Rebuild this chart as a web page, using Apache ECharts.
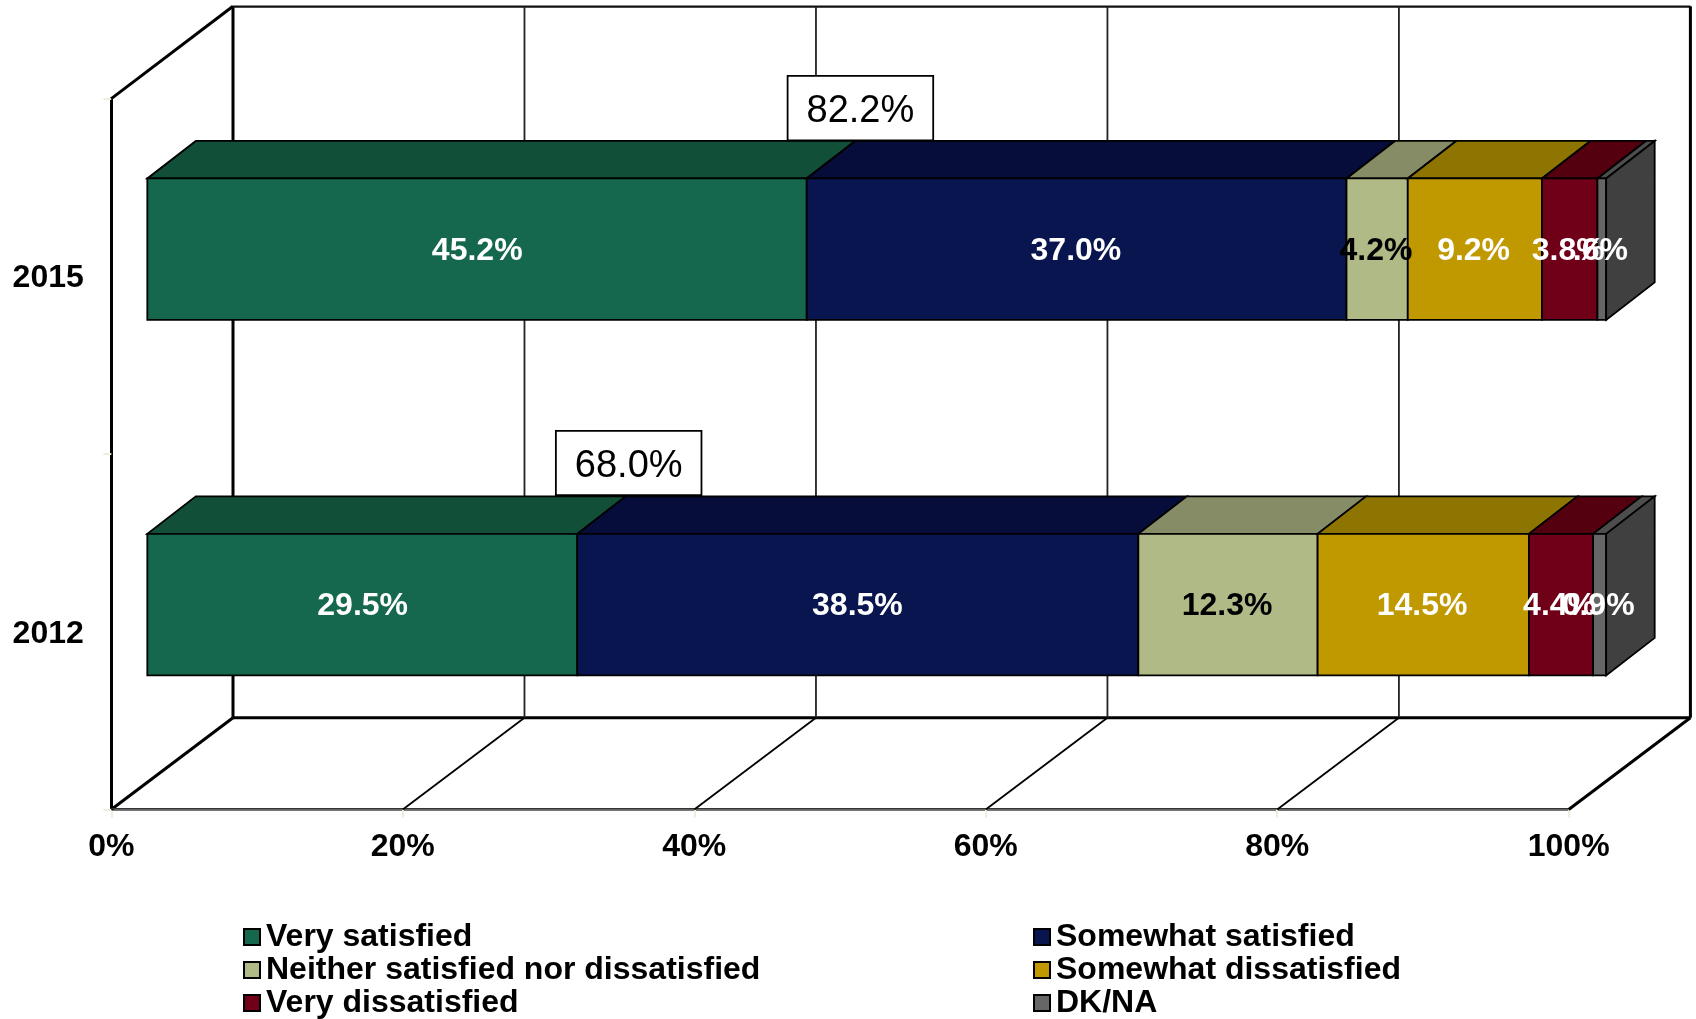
<!DOCTYPE html>
<html>
<head>
<meta charset="utf-8">
<style>html,body{margin:0;padding:0;background:#fff}#c{width:1696px;height:1019px}</style>
<script src="https://cdn.jsdelivr.net/npm/echarts@6/dist/echarts.min.js"></script>
</head>
<body>
<div id="c"></div>
<script>
const categories = ['2012', '2015'];
const xTicks = [0, 20, 40, 60, 80, 100];
const verySatisfied = [29.5, 45.2];
const somewhatSatisfied = [38.5, 37.0];
const neither = [12.3, 4.2];
const somewhatDissatisfied = [14.5, 9.2];
const veryDissatisfied = [4.4, 3.8];
const dkNa = [0.9, 0.6];
const totals = ['68.0%', '82.2%'];

const names = ['Very satisfied', 'Somewhat satisfied', 'Neither satisfied nor dissatisfied', 'Somewhat dissatisfied', 'Very dissatisfied', 'DK/NA'];
const values = [verySatisfied, somewhatSatisfied, neither, somewhatDissatisfied, veryDissatisfied, dkNa];
const frontColors = ['#15674D', '#08154F', '#B0BA86', '#C09900', '#6F0017', '#666666'];
const topColors = ['#114F38', '#060D3B', '#868C66', '#8E7400', '#55000F', '#4D4D4D'];
const labelColors = ['#fff', '#fff', '#000', '#fff', '#fff', '#fff'];
const sideColor = '#404040';

const FONT = '"Liberation Sans", Arial, sans-serif';
const DX = 121.7, DY = -91.7;         // full depth of the 3D box, px
const F = 0.296, BX = 0.6945, BY = 0.705; // bar front / back depth, as a fraction of box depth
const BAR = 0.398;                    // bar height as a fraction of the category band
const STRETCH = 1.001;                // bar run relative to the axis run
const LABEL_RUN = 0.9995;             // label run relative to the axis run
const calloutX = [35.5, 51.4];        // callout box centre, on the value axis
const calloutLift = [141.6, 141.1];   // callout box centre above the bar centre, px
const labelText = { '5:1': '.6%' };   // printed without its leading zero in the reference

function stackBase(s, i) { let b = 0; for (let k = 0; k < s; k++) b += values[k][i]; return b; }
function rowTotal(i) { return stackBase(values.length, i); }
function poly(points, fill) {
  return { type: 'polygon', shape: { points }, style: { fill, stroke: '#000', lineWidth: 1.8, lineJoin: 'miter' } };
}
function line(x1, y1, x2, y2, w, c) {
  return { type: 'line', shape: { x1, y1, x2, y2 }, style: { stroke: c || '#000', lineWidth: w } };
}

function renderFrame(params, api) {
  const t = api.value(0), cs = params.coordSys;
  const x = api.coord([t, 0])[0];
  const top = cs.y - 0.6, bot = cs.y + cs.height;
  const edge = t === 0 || t === 100;
  const children = [
    line(x + DX, top + DY, x + DX, bot + DY, edge ? 3 : 1.8, edge ? '#000' : '#222'),
    line(x, bot, x + DX, bot + DY, edge ? 3 : 1.8)
  ];
  if (t === 0) {
    children.push(line(x + DX, top + DY + 0.3, x + DX + cs.width, top + DY + 0.3, 2.4, '#111'));
    children.push(line(x + DX, bot + DY, x + DX + cs.width, bot + DY, 3));
    children.push(line(x, top + 0.6, x + DX, top + DY, 3));
    children.push(line(x, bot - 0.8, x + cs.width, bot - 0.8, 1.2, '#333'));
  }
  return { type: 'group', children };
}

function makeRender(s) {
  return function (params, api) {
    const i = params.dataIndex;
    const total = rowTotal(i);
    const base = stackBase(s, i) * 100 / total;
    const end = base + api.value(0) * 100 / total;
    const cat = api.value(1);
    const a = api.coord([base * STRETCH, cat]);
    const b = api.coord([end * STRETCH, cat]);
    const m = api.coord([(base + end) / 2 * LABEL_RUN, cat]);
    const h = api.size([0, 1])[1] * BAR;
    const fx = DX * F, fy = DY * F, bx = DX * BX, by = DY * BY;
    const x0 = a[0] + fx, x1 = b[0] + fx;
    const yT = a[1] + fy - h / 2, yB = a[1] + fy + h / 2;
    const dx = bx - fx, dy = by - fy;
    const children = [
      poly([[x0, yT], [x1, yT], [x1 + dx, yT + dy], [x0 + dx, yT + dy]], topColors[s]),
      poly([[x0, yT], [x1, yT], [x1, yB], [x0, yB]], frontColors[s])
    ];
    if (s === values.length - 1) {
      children.push(poly([[x1, yT], [x1 + dx, yT + dy], [x1 + dx, yB + dy], [x1, yB]], sideColor));
    }
    children.push({
      type: 'text', z2: 100,
      style: {
        x: m[0] + fx + 0.7, y: (yT + yB) / 2 + 2,
        text: labelText[s + ':' + i] || api.value(0).toFixed(1) + '%',
        fill: labelColors[s], font: 'bold 32px ' + FONT, align: 'center', verticalAlign: 'middle'
      }
    });
    return { type: 'group', children };
  };
}

function renderCallout(params, api) {
  const i = params.dataIndex;
  const p = api.coord([calloutX[i], api.value(1)]);
  const cy = p[1] + DY * F - calloutLift[i];
  const w = 145.6, h = 64.4;
  return {
    type: 'group',
    children: [
      { type: 'rect', shape: { x: p[0] - w / 2, y: cy - h / 2, width: w, height: h }, style: { fill: '#fff', stroke: '#000', lineWidth: 1.8 } },
      { type: 'text', style: { x: p[0], y: cy + 3.6, text: totals[i], fill: '#000', font: '38px ' + FONT, align: 'center', verticalAlign: 'middle' } }
    ]
  };
}

const chart = echarts.init(document.getElementById('c'), null, { renderer: 'canvas' });
const legendBase = {
  orient: 'vertical', icon: 'rect', itemWidth: 16, itemHeight: 16, itemGap: 0,
  selectedMode: false, padding: 0, height: 120,
  itemStyle: { borderColor: '#000', borderWidth: 2 },
  textStyle: { color: '#000', fontFamily: FONT, fontWeight: 'bold', fontSize: 32, lineHeight: 33, padding: [0, 0, 0, 1] }
};
chart.setOption({
  animation: false,
  backgroundColor: '#fff',
  grid: { left: 111.3, right: 127.3, top: 98.6, bottom: 209.5, containLabel: false },
  xAxis: {
    type: 'value', min: 0, max: 100, interval: 20,
    axisLine: { show: true, lineStyle: { color: '#777', width: 3 } },
    axisTick: { show: true, length: 8, lineStyle: { color: '#eeeedd', width: 2 } },
    splitLine: { show: false },
    axisLabel: { margin: 22, color: '#000', fontFamily: FONT, fontWeight: 'bold', fontSize: 32, formatter: v => v + '%', showMinLabel: true, showMaxLabel: true }
  },
  yAxis: {
    type: 'category', data: categories,
    axisLine: { show: true, lineStyle: { color: '#000', width: 3 } },
    axisTick: { show: true, length: 8, lineStyle: { color: '#eeeedd', width: 2 } },
    splitLine: { show: false },
    axisLabel: {
      margin: 27.5, color: '#000', fontFamily: FONT, fontWeight: 'bold', fontSize: 32,
      formatter: '{a|{value}}',
      rich: { a: { color: '#000', fontFamily: FONT, fontWeight: 'bold', fontSize: 32, padding: [4, 0, 0, 0] } }
    }
  },
  legend: [
    Object.assign({}, legendBase, { left: 243, top: 920.5, data: [names[0], names[2], names[4]] }),
    Object.assign({}, legendBase, { left: 1033, top: 920.5, data: [names[1], names[3], names[5]] })
  ],
  series: [
    {
      type: 'custom', name: 'frame', z: 1, silent: true, renderItem: renderFrame,
      encode: { x: 0, y: 1 }, data: xTicks.map(t => [t, 0])
    }
  ].concat(names.map((n, s) => ({
    type: 'custom', name: n, z: 2, renderItem: makeRender(s),
    itemStyle: { color: frontColors[s] },
    encode: { x: 0, y: 1 },
    data: values[s].map((v, i) => [v, i])
  }))).concat([
    {
      type: 'custom', name: 'callout', z: 3, silent: true, renderItem: renderCallout,
      encode: { x: 0, y: 1 }, data: totals.map((t, i) => [parseFloat(t), i])
    }
  ])
});
</script>
</body>
</html>
